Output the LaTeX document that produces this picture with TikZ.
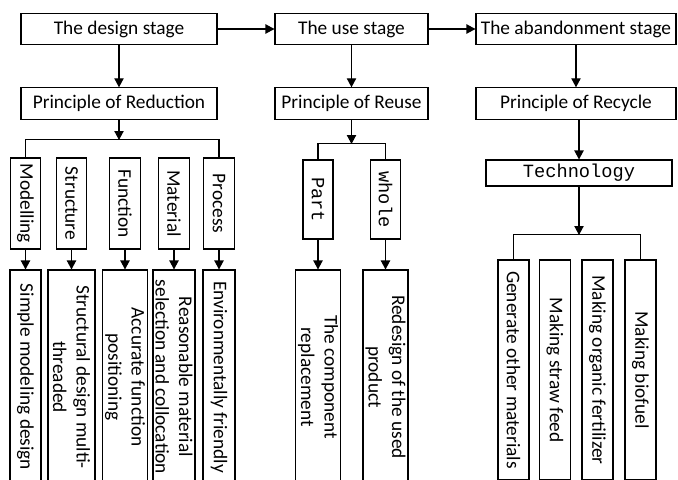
\documentclass[tikz,border=0pt]{standalone}
\usepackage{fontspec}
\setmainfont{Carlito}
\newfontfamily\simfont{Liberation Mono}
\usetikzlibrary{arrows.meta}

\begin{document}
\begin{tikzpicture}[x=0.75pt, y=-0.75pt,
    box/.style={draw, line width=0.8pt, inner sep=1pt, font=\fontsize{14.5}{17.5}\selectfont},
    mono/.style={font=\simfont\fontsize{14}{16}\selectfont},
    hbox/.style={box, minimum height=23.5pt},
    vbox/.style={box, rotate=-90},
    aspect/.style={vbox, minimum width=68.25pt, minimum height=23pt},
    way/.style={vbox, mono, minimum width=59.25pt, minimum height=22.5pt},
    measure/.style={vbox, align=center, minimum width=160.5pt},
    product/.style={vbox, minimum width=165pt, minimum height=23.25pt},
    arr/.style={line width=0.8pt, -{Triangle[length=6.75pt, width=7pt]}}]
    \clip (0,0) rectangle (678,479);

    % Stages
    \node[hbox, minimum width=147pt] (design) at (119,29) {The design stage};
    \node[hbox, minimum width=114.75pt] (use) at (351.5,29) {The use stage};
    \node[hbox, minimum width=150pt] (abandon) at (576,29) {The abandonment stage};

    % Principles
    \node[hbox, minimum width=147pt] (reduction) at (119,103.5) {Principle of Reduction};
    \node[hbox, minimum width=114.75pt] (reuse) at (351.5,103.5) {Principle of Reuse};
    \node[hbox, minimum width=150pt] (recycle) at (576,103.5) {Principle of Recycle};

    \draw[arr] (design) -- (use);
    \draw[arr] (use) -- (abandon);
    \draw[arr] (design) -- (reduction);
    \draw[arr] (use) -- (reuse);
    \draw[arr] (abandon) -- (recycle);

    % Reduction
    \node[aspect] (modelling) at (25.5,203.5) {Modelling};
    \node[aspect] (structure) at (71.5,203.5) {Structure};
    \node[aspect] (function) at (125,203.5) {Function};
    \node[aspect] (material) at (174,203.5) {Material};
    \node[aspect] (process) at (219,203.5) {Process};

    \node[measure, minimum height=23.25pt] (simple) at (25.5,377) {Simple modeling design};
    \node[measure, minimum height=35.25pt] (structural) at (71.5,377) {Structural design multi-\\threaded};
    \node[measure, minimum height=33.75pt] (accurate) at (125,377) {Accurate function\\positioning};
    \node[measure, minimum height=31.5pt] (reasonable) at (174,377) {Reasonable material\\selection and collocation};
    \node[measure, minimum height=24pt] (friendly) at (219,377) {Environmentally friendly};

    \coordinate (redbus) at (119,140);
    \draw[arr] (reduction) -- (redbus);
    \draw[line width=0.8pt] (modelling.west) -- ++(0,-18) -| (process.west);
    \foreach \a/\b in {modelling/simple, structure/structural, function/accurate, material/reasonable, process/friendly}
        \draw[arr] (\a.east) -- (\b.west);

    % Reuse
    \node[way] (part) at (318,199.5) {Part};
    \node[way] (whole) at (385.5,199.5) {whole};

    \node[measure, minimum height=33.75pt] (component) at (318,377) {The component\\replacement};
    \node[measure, minimum height=33.75pt] (redesign) at (385.5,377) {Redesign of the used\\product};

    \coordinate (reusebus) at (351.5,144);
    \draw[arr] (reuse) -- (reusebus);
    \draw[line width=0.8pt] (part.west) -- ++(0,-16) -| (whole.west);
    \draw[arr] (part.east) -- (component.west);
    \draw[arr] (whole.east) -- (redesign.west);

    % Recycle
    \node[hbox, mono, minimum width=139.5pt, minimum height=19.5pt] (tech) at (579,173) {Technology};
    \draw[arr] (recycle.south -| tech.north) -- (tech.north);

    \node[product] (generate) at (513.5,370) {Generate other materials};
    \node[product] (straw) at (555,370) {Making straw feed};
    \node[product] (organic) at (597.5,370) {Making organic fertilizer};
    \node[product] (biofuel) at (640.5,370) {Making biofuel};

    \coordinate (techbus) at (579,235);
    \draw[arr] (tech) -- (techbus);
    \draw[line width=0.8pt] (generate.west) -- ++(0,-25) -| (biofuel.west);
\end{tikzpicture}
\end{document}
